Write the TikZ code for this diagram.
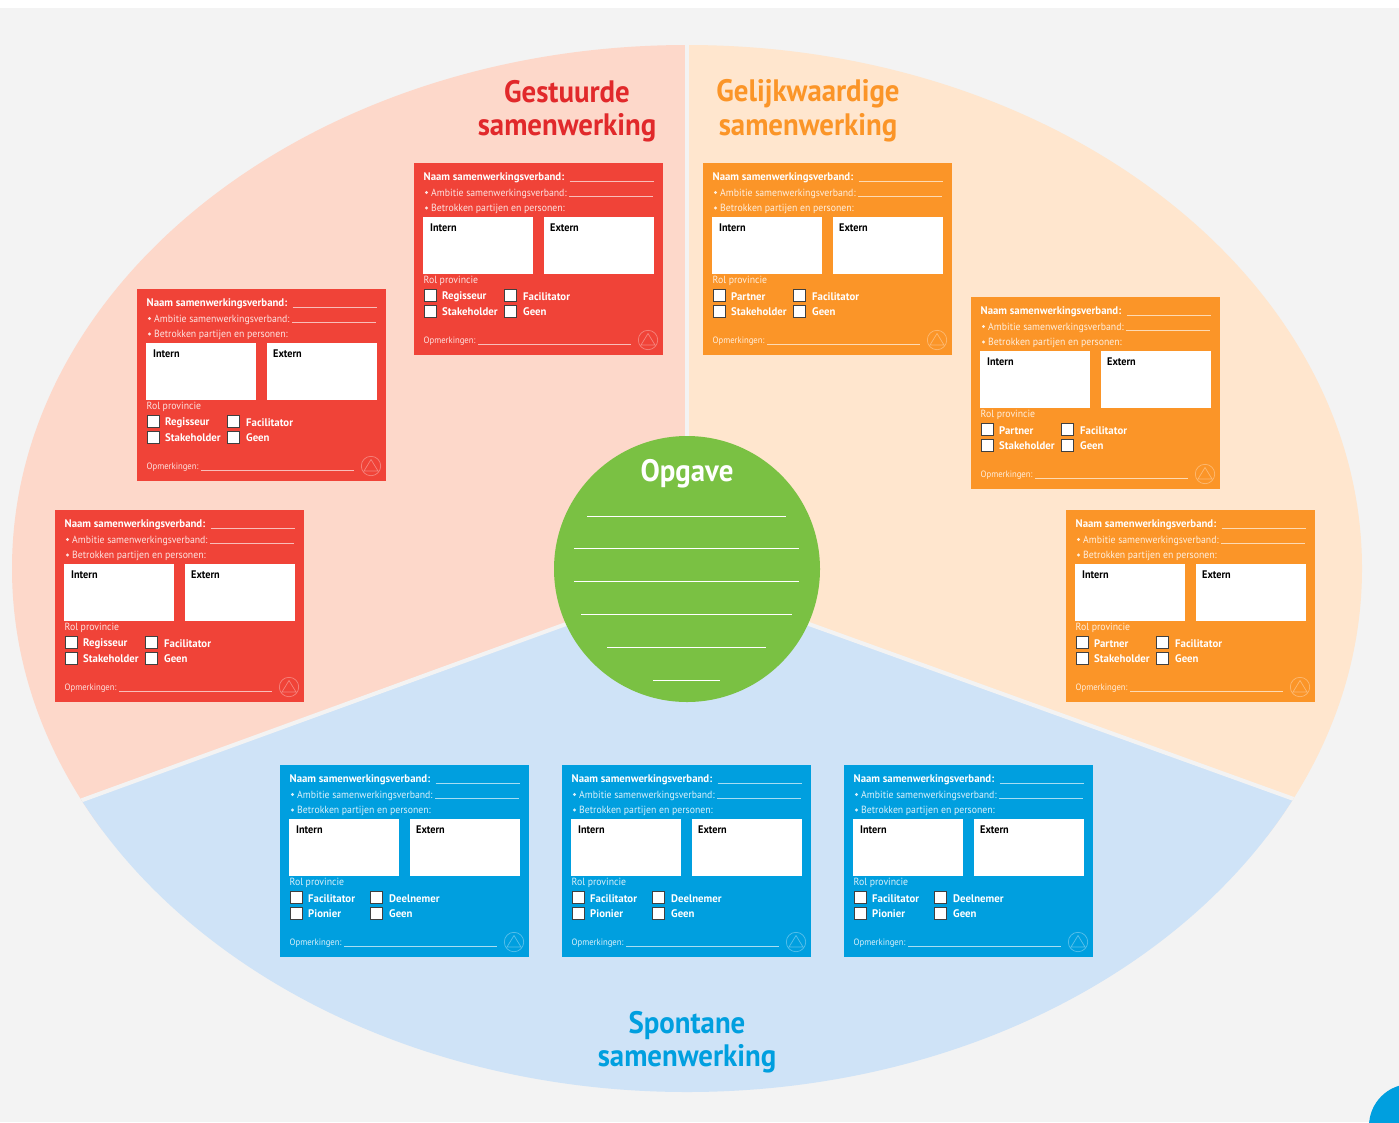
\documentclass[tikz,border=0pt]{standalone}
\usepackage{fontspec}
\setmainfont{PT Sans}
\newfontfamily\kaartdunfont[FakeStretch=0.94]{PT Sans}
\newfontfamily\kaartvetfont[FakeStretch=0.98]{PT Sans}
\newfontfamily\kaartzwartfont[FakeStretch=0.93]{PT Sans}
\newfontfamily\titelfont[FakeStretch=0.93]{PT Sans}
\usetikzlibrary{calc,positioning}

\definecolor{achtergrond}{HTML}{F3F3F3}
\definecolor{roodlicht}{HTML}{FDD8CA}
\definecolor{oranjelicht}{HTML}{FFE6CE}
\definecolor{blauwlicht}{HTML}{CFE3F7}
\definecolor{rood}{HTML}{F04338}
\definecolor{oranje}{HTML}{FB9528}
\definecolor{blauw}{HTML}{009FDF}
\definecolor{groen}{HTML}{7AC143}
\definecolor{titelrood}{HTML}{E1292B}

\tikzset{
    kaartvet/.style={anchor=west, inner sep=0pt, text=white, font=\kaartvetfont\bfseries\fontsize{11}{12}\selectfont},
    kaartdun/.style={anchor=west, inner sep=0pt, text=white, text opacity=0.85, font=\kaartdunfont\fontsize{10.4}{12}\selectfont},
    kaartzwart/.style={anchor=west, inner sep=0pt, text=black, font=\kaartzwartfont\bfseries\fontsize{11}{12}\selectfont},
    titel/.style={inner sep=0pt, font=\titelfont\bfseries\fontsize{31}{34}\selectfont},
    kaartlijn/.style={white, opacity=0.65, line width=0.7pt},
    vakje/.style={draw=black!75, fill=white, line width=0.8pt},
    pics/samenkaart/.style n args={5}{code={
        \fill[#1] (0,0) rectangle (249,192);
        % Tekst bovenaan
        \node[kaartvet] (naam) at (9.5,14.5) {Naam samenwerkingsverband:};
        \draw[kaartlijn] (155.5,18) -- (240,18);
        \node[kaartdun] (ambitie) at (17,30.5) {Ambitie samenwerkingsverband:};
        \draw[kaartlijn] (155,33.5) -- (239,33.5);
        \node[kaartdun] (partijen) at (17,45.5) {Betrokken partijen en personen:};
        \fill[white, opacity=0.85] (12.5,29.5) circle (1.7);
        \fill[white, opacity=0.85] (12.5,45) circle (1.7);
        % Witte vakken
        \fill[white] (9,53.7) rectangle (119,111);
        \fill[white] (130,53.7) rectangle (240,111);
        \node[kaartzwart] (intern) at (16,64.5) {Intern};
        \node[kaartzwart] (extern) at (136,64.5) {Extern};
        % Rol provincie
        \node[kaartdun] (rol) at (9.5,118) {Rol provincie};
        \draw[vakje] (10.5,126.5) rectangle (22.5,138.5);
        \draw[vakje] (90.5,126.5) rectangle (102.5,138.5);
        \draw[vakje] (10.5,142.5) rectangle (22.5,154.5);
        \draw[vakje] (90.5,142.5) rectangle (102.5,154.5);
        \node[kaartvet] (rol1) at (28,134) {#2};
        \node[kaartvet] (rol2) at (109,134) {#3};
        \node[kaartvet] (rol3) at (28,149) {#4};
        \node[kaartvet] (rol4) at (109,149) {#5};
        % Opmerkingen met logo
        \node[kaartdun, font=\kaartdunfont\fontsize{9.2}{11}\selectfont] (opm) at (9.5,178.5) {Opmerkingen:};
        \draw[kaartlijn] (64,181) -- (217,181);
        \draw[white, opacity=0.35, line width=0.7pt] (234,177) circle (9.7);
        \draw[white, opacity=0.35, line width=0.7pt] (234,170.5) -- (241,182) -- (227,182) -- cycle;
    }}
}

\begin{document}
\begin{tikzpicture}[x=1pt, y=-1pt]
    \clip (0,0) rectangle (1399,1122);
    \fill[white] (0,0) rectangle (1399,1122);
    \fill[achtergrond] (0,8) rectangle (1399,1122);
    \fill[blauw] (1411,1126) circle (42);

    \coordinate (midden) at (687,580);
    % Drie delen van de ellips
    \begin{scope}
        \clip (687,568.5) ellipse [x radius=675, y radius=523.5];
        \fill[roodlicht] (0,0) rectangle (687,830);
        \fill[oranjelicht] (687,0) rectangle (1399,837);
        \fill[blauwlicht] (0,830) -- (midden) -- (1399,837) -- (1399,1122) -- (0,1122) -- cycle;
        \draw[achtergrond, line width=4pt] (687,0) -- (midden);
        \draw[achtergrond, line width=4pt] (0,830) -- (midden) -- (1399,837);
    \end{scope}

    % Titels
    \node[titel, text=titelrood] (gestuurd1) at (567,92) {Gestuurde};
    \node[titel, text=titelrood] (gestuurd2) at (567,128) {samenwerking};
    \node[titel, text=oranje] (gelijk1) at (808,94) {Gelijkwaardige};
    \node[titel, text=oranje] (gelijk2) at (808,128) {samenwerking};
    \node[titel, text=blauw] (spontaan1) at (687,1026) {Spontane};
    \node[titel, text=blauw] (spontaan2) at (687,1059) {samenwerking};

    % Cirkel met de opgave
    \fill[groen] (687,569) circle (133);
    \node[titel, text=white] (opgave) at (687,474) {Opgave};
    \draw[white, line width=1pt] (587,516) -- (786,516);
    \draw[white, line width=1pt] (574,548) -- (799,548);
    \draw[white, line width=1pt] (574,581.5) -- (799,581.5);
    \draw[white, line width=1pt] (581,614) -- (792,614);
    \draw[white, line width=1pt] (607,647) -- (766,647);
    \draw[white, line width=1pt] (653,680) -- (720,680);

    % Rode kaarten
    \foreach \x/\y/\n in {414/163/a, 137/289/b, 55/510/c} {
        \pic (rood\n) at (\x,\y) {samenkaart={rood}{Regisseur}{Facilitator}{Stakeholder}{Geen}};
    }
    % Oranje kaarten
    \foreach \x/\y/\n in {703/163/a, 971/297/b, 1066/510/c} {
        \pic (oranje\n) at (\x,\y) {samenkaart={oranje}{Partner}{Facilitator}{Stakeholder}{Geen}};
    }
    % Blauwe kaarten
    \foreach \x/\y/\n in {280/765/a, 562/765/b, 844/765/c} {
        \pic (blauw\n) at (\x,\y) {samenkaart={blauw}{Facilitator}{Deelnemer}{Pionier}{Geen}};
    }
\end{tikzpicture}
\end{document}
